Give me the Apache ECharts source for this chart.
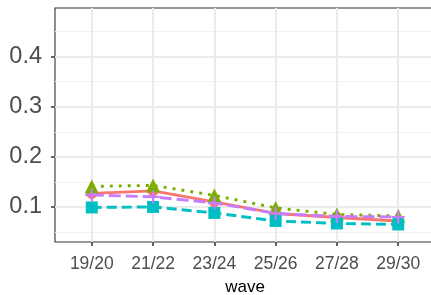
<!DOCTYPE html>
<html lang="en">
<head>
<meta charset="UTF-8">
<title>wave</title>
<script src="https://cdn.jsdelivr.net/npm/echarts@6/dist/echarts.min.js"></script>
<style>
  html, body { margin: 0; padding: 0; background: #fff; }
  #chart { width: 431px; height: 295px; }
</style>
</head>
<body>
<div id="chart"></div>
<script>
// data
var waves = ['19/20', '21/22', '23/24', '25/26', '27/28', '29/30'];
var redVals    = [0.127, 0.132, 0.110, 0.087, 0.079, 0.072];
var greenVals  = [0.141, 0.143, 0.123, 0.098, 0.085, 0.082];
var cyanVals   = [0.099, 0.100, 0.088, 0.072, 0.067, 0.065];
var purpleVals = [0.124, 0.120, 0.108, 0.087, 0.081, 0.080];
var yTicks = [0.1, 0.2, 0.3, 0.4];
var yMinor = [0.05, 0.15, 0.25, 0.35, 0.45];

function pts(vals) {
    return vals.map(function (v, i) { return [i, v]; });
}

var font = 'Liberation Sans, Arial, sans-serif';
var plusPath = 'path://M4.2,0H5.8V4.2H10V5.8H5.8V10H4.2V5.8H0V4.2H4.2Z';

function series(name, color, vals, dash, symbol, size, z) {
    return {
        name: name,
        type: 'line',
        data: pts(vals),
        z: z,
        symbol: symbol,
        symbolSize: size,
        showSymbol: true,
        lineStyle: { color: color, width: 2.9, type: dash, cap: 'butt' },
        itemStyle: { color: color, borderWidth: 0 },
        emphasis: { disabled: true },
        animation: false
    };
}

var myChart = echarts.init(document.getElementById('chart'), null, { renderer: 'canvas' });

var option = {
    backgroundColor: '#ffffff',
    animation: false,
    grid: {
        left: 55, top: 8, width: 380, height: 234,
        outerBoundsMode: 'none', containLabel: false,
        show: true, borderColor: '#333333', borderWidth: 1.1, backgroundColor: '#ffffff'
    },
    xAxis: {
        type: 'value',
        min: -0.6, max: 5.6,
        name: 'wave', nameLocation: 'middle', nameGap: 37,
        nameTextStyle: { color: '#000', fontSize: 17, fontFamily: font },
        axisLine: { show: false, onZero: false },
        axisTick: { show: true, length: 4, customValues: [0, 1, 2, 3, 4, 5],
                    lineStyle: { color: '#333333', width: 1.5 } },
        axisLabel: { customValues: [0, 1, 2, 3, 4, 5], color: '#4d4d4d', fontSize: 17.5,
                     fontFamily: font, margin: 13,
                     formatter: function (v) { return waves[Math.round(v)]; } },
        splitLine: { show: true, lineStyle: { color: '#ebebeb', width: 2 } }
    },
    yAxis: [{
        type: 'value',
        min: 0.03, max: 0.497,
        axisLine: { show: false, onZero: false },
        axisTick: { show: true, length: 4, customValues: yTicks,
                    lineStyle: { color: '#333333', width: 1.5 } },
        axisLabel: { customValues: yTicks, color: '#4d4d4d', fontSize: 23.5, fontFamily: font,
                     margin: 13, formatter: function (v) { return v.toFixed(1); } },
        splitLine: { show: true, lineStyle: { color: '#ebebeb', width: 2 } }
    }, {
        type: 'value',
        min: 0.03, max: 0.497,
        position: 'left',
        axisLine: { show: false, onZero: false },
        axisTick: { show: false, customValues: yMinor },
        axisLabel: { show: false },
        splitLine: { show: true, lineStyle: { color: '#f2f2f2', width: 1 } }
    }],
    series: [
        series('a', '#F8766D', redVals, 'solid', 'circle', 11, 3),
        series('b', '#7CAE00', greenVals, [3, 6], 'triangle', 14, 4),
        series('c', '#00BFC4', cyanVals, [10, 5], 'rect', 12, 5),
        series('d', '#C77CFF', purpleVals, [12, 5], plusPath, 13, 6)
    ]
};
myChart.setOption(option);
</script>
</body>
</html>
